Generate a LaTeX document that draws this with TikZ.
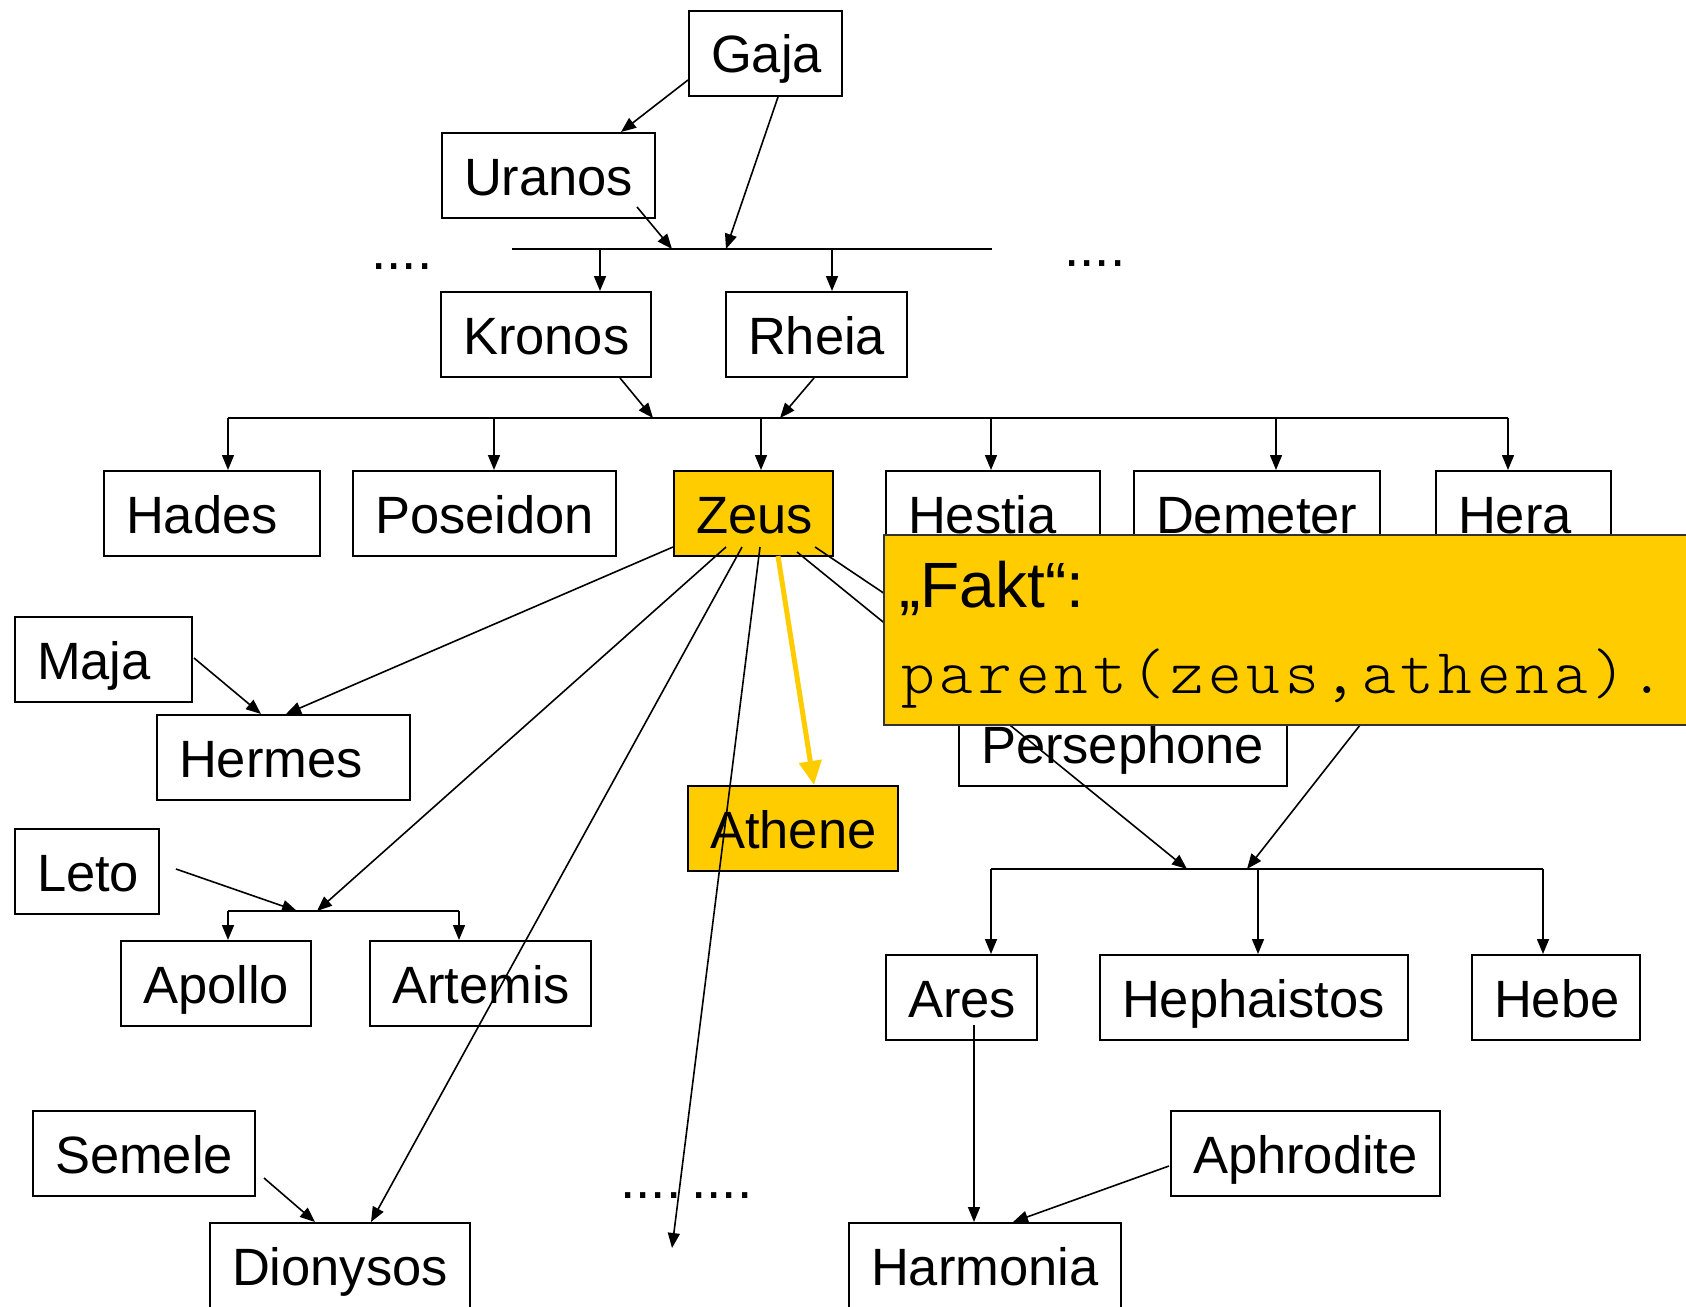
\documentclass[tikz,border=0pt]{standalone}
\usepackage{fontspec}
\setmainfont{Liberation Sans}
\newfontfamily\codefont{lmmonolt10-regular.otf}[LetterSpace=7.5]
\usetikzlibrary{arrows.meta,calc}
\hyphenpenalty=10000
\exhyphenpenalty=10000
\definecolor{gold}{RGB}{255,204,0}

\tikzset{
  god/.style={draw=black, line width=2pt, anchor=north west,
    inner xsep=22pt, inner ysep=0pt, text width=#1,
    text height=62pt, text depth=23pt, align=left,
    font=\fontsize{52.5}{60}\selectfont},
  hl/.style={fill=gold},
  bar/.style={line width=1.6pt},
  conn/.style={line width=1.6pt, -{Triangle[length=15pt,width=12pt]}},
  factarrow/.style={line width=5pt, draw=gold,
    -{Triangle[length=24pt,width=22pt]}},
  dots/.style={anchor=base west, inner sep=0pt,
    font=\fontsize{55}{60}\selectfont},
  factbox/.style={draw=black!80, line width=2pt, fill=gold,
    anchor=north west, minimum width=830pt, minimum height=190pt,
    inner sep=0pt},
}

\begin{document}
\begin{tikzpicture}[x=1pt,y=-1pt]
\useasboundingbox (0,0) rectangle (1686,1306);
\clip (0,0) rectangle (1686,1306);

% --- family members ---
\node[god=109pt] (gaja)       at (688,10)    {Gaja};
\node[god=169pt] (uranos)     at (441,132)   {Uranos};
\node[god=166pt] (kronos)     at (440,291)   {Kronos};
\node[god=137pt] (rheia)      at (725,291)   {Rheia};
\node[god=172pt] (hades)      at (103,470)   {Hades};
\node[god=219pt] (poseidon)   at (352,470)   {Poseidon};
\node[god=115pt,hl] (zeus)    at (673,470)   {Zeus};
\node[god=170pt] (hestia)     at (885,470)   {Hestia};
\node[god=202pt] (demeter)    at (1133,470)  {Demeter};
\node[god=131pt] (hera)       at (1435,470)  {Hera};
\node[god=133pt] (maja)       at (14,616)    {Maja};
\node[god=209pt] (hermes)     at (156,714)   {Hermes};
\node[god=284pt] (persephone) at (958,700)   {Persephone};
\node[god=166pt,hl] (athene)  at (687,785)   {Athene};
\node[god=100pt] (leto)       at (14,828)    {Leto};
\node[god=146pt] (apollo)     at (120,940)   {Apollo};
\node[god=177pt] (artemis)    at (369,940)   {Artemis};
\node[god=107pt] (ares)       at (885,954)   {Ares};
\node[god=264pt] (hephaistos) at (1099,954)  {Hephaistos};
\node[god=124pt] (hebe)       at (1471,954)  {Hebe};
\node[god=178pt] (semele)     at (32,1110)   {Semele};
\node[god=225pt] (aphrodite)  at (1170,1110) {Aphrodite};
\node[god=216pt] (dionysos)   at (209,1222)  {Dionysos};
\node[god=228pt] (harmonia)   at (848,1222)  {Harmonia};

% --- ellipses for omitted relatives ---
\node[dots] (dotsUL) at (371,269)  {....};
\node[dots] (dotsUR) at (1064,266) {....};
\node[dots] (dotsB1) at (620,1198) {....};
\node[dots] (dotsB2) at (691,1198) {....};

% --- couple bars ---
\coordinate (b1w) at (512,249);  \coordinate (b1e) at (992,249);
\coordinate (b2w) at (228,418);  \coordinate (b2e) at (1508,418);
\coordinate (b3w) at (228,911);  \coordinate (b3e) at (459,911);
\coordinate (b4w) at (991,869);  \coordinate (b4e) at (1543,869);
\draw[bar] (b1w) -- (b1e);
\draw[bar] (b2w) -- (b2e);
\draw[bar] (b3w) -- (b3e);
\draw[bar] (b4w) -- (b4e);

% where the parent lines meet the bars
\coordinate (m1a) at (672,249);  \coordinate (m1b) at (726,249);
\coordinate (m2a) at (653,418);  \coordinate (m2b) at (780,418);
\coordinate (m3a) at (297,911);  \coordinate (m3b) at (317,911);
\coordinate (m4a) at (1187,869); \coordinate (m4b) at (1247,869);
\coordinate (pers) at ($(persephone.north west)+(85,0)$);
\coordinate (more) at (672,1248);

% --- children hanging from the bars ---
\draw[conn] (kronos.north west) ++(160,-42) -- ++(0,42);
\draw[conn] (rheia.north west) ++(107,-42) -- ++(0,42);
\draw[conn] (hades.north west) ++(125,-52) -- ++(0,52);
\draw[conn] (poseidon.north west) ++(142,-52) -- ++(0,52);
\draw[conn] (zeus.north west) ++(88,-52) -- ++(0,52);
\draw[conn] (hestia.north west) ++(106,-52) -- ++(0,52);
\draw[conn] (demeter.north west) ++(143,-52) -- ++(0,52);
\draw[conn] (hera.north west) ++(73,-52) -- ++(0,52);
\draw[conn] (apollo.north west) ++(108,-29) -- ++(0,29);
\draw[conn] (artemis.north west) ++(90,-29) -- ++(0,29);
\draw[conn] (ares.north west) ++(106,-85) -- ++(0,85);
\draw[conn] (hephaistos.north west) ++(159,-85) -- ++(0,85);
\draw[conn] (hebe.north west) ++(72,-85) -- ++(0,85);

% --- parent lines ---
\draw[conn] ($(gaja.north west)+(0,70)$) -- ($(uranos.north west)+(180,0)$);
\draw[conn] ($(uranos.north west)+(196,75)$) -- (m1a);
\draw[conn] ($(gaja.south west)+(90,0)$) -- (m1b);
\draw[conn] ($(kronos.south west)+(180,0)$) -- (m2a);
\draw[conn] ($(rheia.south west)+(89,0)$) -- (m2b);

\draw[conn] ($(zeus.south west)+(0,-10)$) -- ($(hermes.north west)+(130,0)$);
\draw[conn] ($(zeus.south west)+(53,-10)$) -- (m3b);
\draw[conn] ($(zeus.south west)+(69,-10)$) -- ($(dionysos.north west)+(162,0)$);
\draw[conn] ($(zeus.south west)+(87,-10)$) -- (more);
\draw[conn] ($(zeus.south west)+(142,-10)$) -- (pers);
\draw[conn] ($(zeus.south west)+(124,-5)$) -- (m4a);
\draw[conn] ($(hera.south west)+(57,0)$) -- (m4b);

\draw[conn] ($(maja.north east)+(1,42)$) -- ($(hermes.north west)+(105,0)$);
\draw[conn] ($(leto.north east)+(16,41)$) -- (m3a);
\draw[conn] ($(semele.north east)+(8,68)$) -- ($(dionysos.north west)+(106,0)$);
\draw[conn] ($(ares.south west)+(89,-16)$) -- ($(harmonia.north west)+(126,0)$);
\draw[conn] ($(aphrodite.north west)+(-1,56)$) -- ($(harmonia.north west)+(165,0)$);

% --- highlighted fact ---
\draw[factarrow] ($(zeus.south west)+(105,-1)$) -- ($(athene.north west)+(127,0)$);
\node[factbox] (fakt) at (883,534) {};
\node[anchor=base west, inner sep=0pt, font=\fontsize{64}{70}\selectfont]
  (faktlabel) at (899,607) {„Fakt“:};
\node[anchor=base west, inner sep=0pt, font=\fontsize{64}{70}\codefont]
  (faktcode) at (901,693) {parent(zeus,athena).};
\end{tikzpicture}
\end{document}
